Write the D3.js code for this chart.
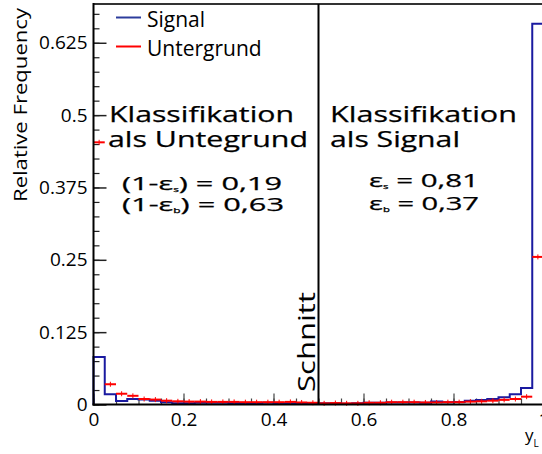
<!DOCTYPE html>
<html>
<head>
<meta charset="utf-8">
<script src="https://cdn.jsdelivr.net/npm/d3@7"></script>
<style>
  body { margin: 0; background: #fff; }
  svg { display: block; }
  text { font-family: "Open Sans", sans-serif; fill: #000; }
</style>
</head>
<body>
<svg id="chart" width="542" height="454"></svg>
<script>
  // bins of width 0.025 on [0, 1]
  var binWidth = 0.025;
  var signalValues = [
    0.082, 0.0176, 0.006, 0.0095, 0.0085, 0.0066, 0.004, 0.002, 0.002, 0.003,
    0.003, 0.003, 0.0025, 0.0025, 0.0025, 0.003, 0.002, 0.002, 0.0025, 0.002,
    0.002, 0.002, 0.0015, 0.002, 0.003, 0.003, 0.0035, 0.0035, 0.0035, 0.003,
    0.005, 0.004, 0.0045, 0.0066, 0.0078, 0.0095, 0.0124, 0.0175, 0.0285, 0.658
  ];
  var backgroundValues = [
    0.453, 0.035, 0.0186, 0.015, 0.0095, 0.0085, 0.0066, 0.0055, 0.005, 0.005,
    0.0045, 0.0045, 0.0045, 0.004, 0.004, 0.004, 0.004, 0.0045, 0.0035, 0.003,
    0.002, 0.0025, 0.002, 0.002, 0.003, 0.003, 0.004, 0.004, 0.004, 0.0035,
    0.0035, 0.004, 0.004, 0.005, 0.0055, 0.0066, 0.008, 0.0095, 0.0135, 0.255
  ];
  var xTicks = [0, 0.2, 0.4, 0.6, 0.8, 1];
  var xTickLabels = ['0', '0.2', '0.4', '0.6', '0.8', '1'];
  var yTicks = [0, 0.125, 0.25, 0.375, 0.5, 0.625];
  var yTickLabels = ['0', '0.125', '0.25', '0.375', '0.5', '0.625'];
  var cutValue = 0.5;
  var legendNames = ['Signal', 'Untergrund'];

  var blue = '#1a1aa0',
      red = '#ff0000';

  var svg = d3.select('#chart');

  var x = d3.scaleLinear().domain([0, 1]).range([93.5, 543.5]);
  var y = d3.scaleLinear().domain([0, 0.692]).range([404.5, 4]);

  // minor + major ticks
  var xMinor = d3.range(0, 1.0001, 0.05);
  var yMinor = d3.range(0, 0.69, 0.025);

  svg.append('g')
    .attr('transform', 'translate(0,' + y(0) + ')')
    .call(d3.axisBottom(x).tickValues(xMinor).tickSize(-6).tickFormat(''))
    .call(function(g) { g.select('.domain').remove(); })
    .selectAll('line').attr('stroke', '#444').attr('stroke-width', 1.2);

  var xAxis = svg.append('g')
    .attr('transform', 'translate(0,' + y(0) + ')')
    .call(d3.axisBottom(x).tickValues(xTicks).tickSize(-11).tickPadding(8)
      .tickFormat(function(d, i) { return xTickLabels[i]; }));
  xAxis.select('.domain').remove();
  xAxis.selectAll('line').attr('stroke', '#444').attr('stroke-width', 1.2);
  xAxis.selectAll('text').attr('font-size', 19).attr('fill', '#111')
    .style('font-family', '"Open Sans", sans-serif');

  svg.append('g')
    .attr('transform', 'translate(' + x(0) + ',0)')
    .call(d3.axisLeft(y).tickValues(yMinor).tickSize(-6).tickFormat(''))
    .call(function(g) { g.select('.domain').remove(); })
    .selectAll('line').attr('stroke', '#222').attr('stroke-width', 1.2);

  var yAxis = svg.append('g')
    .attr('transform', 'translate(' + x(0) + ',0)')
    .call(d3.axisLeft(y).tickValues(yTicks).tickSize(-13).tickPadding(6)
      .tickFormat(function(d, i) { return yTickLabels[i]; }));
  yAxis.select('.domain').remove();
  yAxis.selectAll('line').attr('stroke', '#222').attr('stroke-width', 1.5);
  yAxis.selectAll('text').attr('font-size', 19).attr('fill', '#111')
    .style('font-family', '"Open Sans", sans-serif');

  // signal histogram (step outline)
  var pts = [[x(0), y(0)]];
  signalValues.forEach(function(v, i) {
    pts.push([x(i * binWidth), y(v)]);
    pts.push([x((i + 1) * binWidth), y(v)]);
  });
  pts.push([x(1), y(0)]);

  svg.append('path')
    .attr('d', d3.line()(pts))
    .attr('fill', 'none')
    .attr('stroke', blue)
    .attr('stroke-width', 2);

  // background: horizontal bars with small vertical markers
  var bg = svg.append('g').attr('class', 'background');
  backgroundValues.forEach(function(v, i) {
    var x0 = x(i * binWidth), x1 = x((i + 1) * binWidth), xc = (x0 + x1) / 2;
    bg.append('line')
      .attr('x1', x0).attr('x2', x1).attr('y1', y(v)).attr('y2', y(v))
      .attr('stroke', red).attr('stroke-width', 2);
    bg.append('line')
      .attr('x1', xc).attr('x2', xc).attr('y1', y(v) - 2.5).attr('y2', y(v) + 2.5)
      .attr('stroke', red).attr('stroke-width', 1);
  });

  // frame
  svg.append('line')
    .attr('x1', x(0)).attr('x2', 542).attr('y1', y.range()[1]).attr('y2', y.range()[1])
    .attr('stroke', '#333').attr('stroke-width', 2);
  svg.append('line')
    .attr('x1', x(0)).attr('x2', x(0)).attr('y1', y.range()[1] - 1).attr('y2', y(0) + 1)
    .attr('stroke', '#000').attr('stroke-width', 2);
  svg.append('line')
    .attr('x1', x(0) - 1).attr('x2', 542).attr('y1', y(0)).attr('y2', y(0))
    .attr('stroke', '#000').attr('stroke-width', 2);

  // cut line
  svg.append('line')
    .attr('x1', x(cutValue)).attr('x2', x(cutValue))
    .attr('y1', y.range()[1]).attr('y2', y(0))
    .attr('stroke', '#000').attr('stroke-width', 2);

  svg.append('text')
    .attr('transform', 'translate(' + (x(cutValue) - 4) + ',392) rotate(-90)')
    .attr('font-size', 23)
    .attr('textLength', 100)
    .attr('lengthAdjust', 'spacingAndGlyphs')
    .text('Schnitt');

  // axis titles
  svg.append('text')
    .attr('transform', 'translate(27,202) rotate(-90)')
    .attr('font-size', 19)
    .attr('fill', '#222')
    .attr('textLength', 194)
    .attr('lengthAdjust', 'spacingAndGlyphs')
    .text('Relative Frequency');

  var yl = svg.append('text')
    .attr('x', 525).attr('y', 441)
    .attr('font-size', 17);
  yl.append('tspan').text('y');
  yl.append('tspan').attr('font-size', 10).attr('dy', 6).text('L');

  // legend
  var legendColors = [blue, red];
  var legendY = [17.5, 46.5];
  legendNames.forEach(function(name, i) {
    svg.append('line')
      .attr('x1', 116).attr('x2', 141).attr('y1', legendY[i]).attr('y2', legendY[i])
      .attr('stroke', i === 0 ? '#2c3c9c' : red).attr('stroke-width', 2);
    svg.append('text')
      .attr('x', 147).attr('y', legendY[i] + 9)
      .attr('font-size', 21)
      .text(name);
  });

  // annotations
  function label(xp, yp, size, len, parts) {
    var t = svg.append('text')
      .attr('x', xp).attr('y', yp)
      .attr('font-size', size)
      .attr('stroke', '#000').attr('stroke-width', 0.25)
      .attr('textLength', len)
      .attr('lengthAdjust', 'spacingAndGlyphs');
    parts.forEach(function(p) {
      var s = t.append('tspan').text(p[0]);
      if (p[1]) {
        s.attr('font-size', 7).attr('dy', 2);
      } else if (p[2]) {
        s.attr('dy', -2);
      }
    });
  }

  label(109, 122, 22, 185, [['Klassifikation']]);
  label(108, 147, 22, 200, [['als Untegrund']]);
  label(122, 190, 18, 160, [['(1-ε'], ['s', true], [') = 0,19', false, true]]);
  label(122, 211, 18, 162, [['(1-ε'], ['b', true], [') = 0,63', false, true]]);

  label(330, 122, 22, 187, [['Klassifikation']]);
  label(330, 147, 22, 130, [['als Signal']]);
  label(369, 187, 18, 110, [['ε'], ['s', true], [' = 0,81', false, true]]);
  label(369, 210, 18, 110, [['ε'], ['b', true], [' = 0,37', false, true]]);
</script>
</body>
</html>
